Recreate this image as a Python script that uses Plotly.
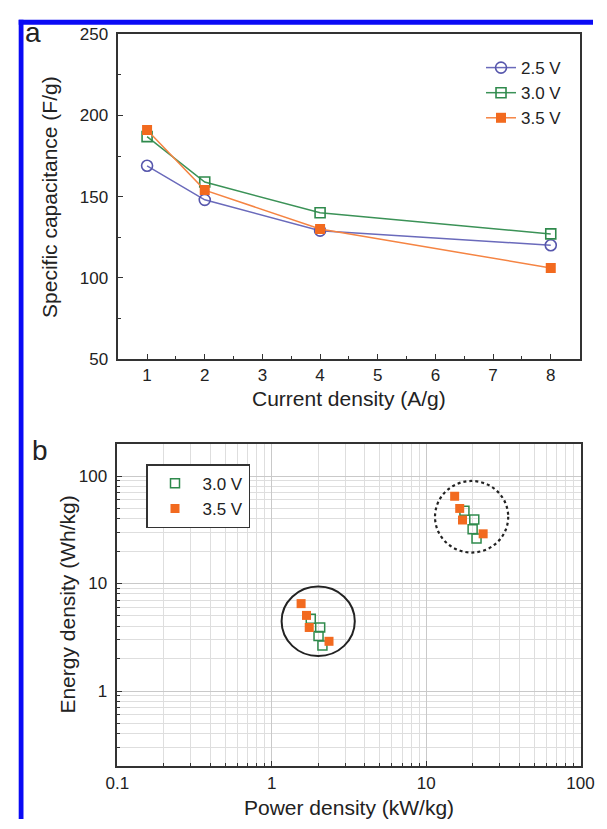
import numpy as np
import plotly.graph_objects as go

# ---- panel a: specific capacitance vs current density ----
current_density = [1, 2, 4, 8]
cap_25v = [169, 148, 129, 120]
cap_30v = [187, 159, 140, 127]
cap_35v = [191, 154, 130, 106]

# ---- panel b: Ragone plot (power density kW/kg, energy density Wh/kg) ----
power_30v = [1.79, 2.06, 2.01, 2.13, 17.7, 20.5, 20.0, 21.2]
energy_30v = [4.7, 3.9, 3.25, 2.65, 47.5, 39.5, 32.0, 26.2]
power_35v = [1.55, 1.68, 1.75, 2.35, 15.3, 16.5, 17.2, 23.4]
energy_35v = [6.5, 5.05, 3.9, 2.9, 65.0, 50.0, 39.0, 29.0]

# outline around each group: centre (kW/kg, Wh/kg), half-width/height in decades, dash
group_centers_power = [2.0, 19.7]
group_centers_energy = [4.45, 41.8]
group_half_w = [0.237, 0.237]
group_half_h = [0.323, 0.333]
group_dash = ["solid", "dot"]

W, H = 607, 829
FONT = "Liberation Sans, Arial, Helvetica, sans-serif"
INK = "#222222"
AX = "#333333"

C25, C30, C35 = "#5656ac", "#2f8a4c", "#f26a1f"
L25, L30, L35 = "#6a6abb", "#3b9257", "#f58443"


def px_x(p):
    return p / W


def px_y(p):
    return 1 - p / H


fig = go.Figure()

fig.add_trace(go.Scatter(
    x=current_density, y=cap_25v, name="2.5 V", mode="lines+markers",
    line=dict(color=L25, width=1.5),
    marker=dict(symbol="circle-open", size=11, color=C25, line=dict(width=1.6, color=C25)),
    xaxis="x", yaxis="y", legend="legend"))
fig.add_trace(go.Scatter(
    x=current_density, y=cap_30v, name="3.0 V", mode="lines+markers",
    line=dict(color=L30, width=1.5),
    marker=dict(symbol="square-open", size=10, color=C30, line=dict(width=1.6, color=C30)),
    xaxis="x", yaxis="y", legend="legend"))
fig.add_trace(go.Scatter(
    x=current_density, y=cap_35v, name="3.5 V", mode="lines+markers",
    line=dict(color=L35, width=1.5),
    marker=dict(symbol="square", size=10, color=C35, line=dict(width=0)),
    xaxis="x", yaxis="y", legend="legend"))

fig.add_trace(go.Scatter(
    x=power_30v, y=energy_30v, name="3.0 V", mode="markers",
    marker=dict(symbol="square-open", size=9, color=C30, line=dict(width=1.5, color=C30)),
    xaxis="x2", yaxis="y2", legend="legend2"))
fig.add_trace(go.Scatter(
    x=power_35v, y=energy_35v, name="3.5 V", mode="markers",
    marker=dict(symbol="square", size=9, color=C35, line=dict(width=0)),
    xaxis="x2", yaxis="y2", legend="legend2"))

tick_font = dict(family=FONT, size=17, color=INK)
title_font = dict(family=FONT, size=21, color=INK)

common_axis = dict(
    showline=True, linecolor=AX, linewidth=1.5, mirror=True,
    ticks="inside", ticklen=5, tickwidth=1.3, tickcolor=AX,
    tickfont=tick_font, zeroline=False, ticklabeloverflow="allow",
)

fig.update_layout(
    width=W, height=H,
    margin=dict(l=0, r=0, t=0, b=0),
    paper_bgcolor="white", plot_bgcolor="white",
    font=dict(family=FONT, color=INK),
    xaxis=dict(
        domain=[px_x(111), px_x(593)], anchor="y",
        range=[0.5, 8.5], tickvals=[1, 2, 3, 4, 5, 6, 7, 8], showgrid=False,
        minor=dict(dtick=0.5, tick0=0.5, ticks="inside", ticklen=3, tickcolor=AX, showgrid=False),
        **common_axis),
    yaxis=dict(
        domain=[px_y(358), px_y(26)], anchor="x",
        range=[50, 250], dtick=50, showgrid=False, ticklabelstandoff=5,
        minor=dict(dtick=25, tick0=50, ticks="inside", ticklen=3, tickcolor=AX, showgrid=False),
        **common_axis),
    xaxis2=dict(
        domain=[px_x(110), px_x(594)], anchor="y2",
        type="log", range=[-1, 2], tickvals=[0.1, 1, 10, 100],
        ticktext=["0.1", "1", "10", "100"], ticklabelstandoff=1,
        showgrid=True, gridcolor="#c9c9c9", gridwidth=1,
        minor=dict(dtick="D1", ticks="inside", ticklen=3, tickcolor=AX,
                   showgrid=True, gridcolor="#dedede", gridwidth=1),
        **common_axis),
    yaxis2=dict(
        domain=[px_y(775), px_y(445)], anchor="x2",
        type="log", range=[-0.7, 2.3], tickvals=[1, 10, 100],
        ticktext=["1", "10", "100"], ticklabelstandoff=5,
        showgrid=True, gridcolor="#c9c9c9", gridwidth=1,
        minor=dict(dtick="D1", ticks="inside", ticklen=3, tickcolor=AX,
                   showgrid=True, gridcolor="#dedede", gridwidth=1),
        **common_axis),
    legend=dict(
        x=px_x(490), y=px_y(42), xanchor="left", yanchor="top",
        bgcolor="rgba(255,255,255,0)", borderwidth=0,
        font=dict(family=FONT, size=17, color=INK),
        tracegroupgap=0, itemwidth=30),
    legend2=dict(
        x=px_x(140), y=px_y(466), xanchor="left", yanchor="top",
        bgcolor="white", bordercolor=AX, borderwidth=1.5,
        font=dict(family=FONT, size=17, color=INK),
        tracegroupgap=0, itemwidth=45),
    showlegend=True,
)

shapes = []
for cx, cy, hw, hh, dash in zip(group_centers_power, group_centers_energy,
                                group_half_w, group_half_h, group_dash):
    lx, ly = np.log10(cx), np.log10(cy)
    shapes.append(dict(
        type="circle", xref="x2", yref="y2",
        x0=10 ** (lx - hw), x1=10 ** (lx + hw),
        y0=10 ** (ly - hh), y1=10 ** (ly + hh),
        line=dict(color="#222222", width=2 if dash == "solid" else 2.2, dash=dash),
        layer="above"))

# blue frame along the top and left edges
shapes.append(dict(type="rect", xref="paper", yref="paper",
                   x0=px_x(7), x1=1.0, y0=px_y(16), y1=px_y(11),
                   fillcolor="#0a0af5", line=dict(width=0), layer="above"))
shapes.append(dict(type="rect", xref="paper", yref="paper",
                   x0=px_x(7), x1=px_x(12), y0=0.0, y1=px_y(11),
                   fillcolor="#0a0af5", line=dict(width=0), layer="above"))
fig.update_layout(shapes=shapes)

# axis titles
titles = [
    ("Specific capacitance (F/g)", 39, 192, -90),
    ("Current density (A/g)", 352, 399, 0),
    ("Energy density (Wh/kg)", 57, 610, -90),
    ("Power density (kW/kg)", 352, 817, 0),
]
for text, tx, ty, ang in titles:
    fig.add_annotation(text=text, xref="paper", yref="paper", x=px_x(tx), y=px_y(ty),
                       xanchor="center", yanchor="middle", textangle=ang, showarrow=False,
                       font=title_font)

fig.add_annotation(text="a", xref="paper", yref="paper", x=px_x(11), y=px_y(24),
                   xanchor="left", yanchor="middle", showarrow=False,
                   font=dict(family=FONT, size=28, color=INK))
fig.add_annotation(text="b", xref="paper", yref="paper", x=px_x(19), y=px_y(452),
                   xanchor="left", yanchor="middle", showarrow=False,
                   font=dict(family=FONT, size=28, color=INK))

fig.write_html("out.html")
